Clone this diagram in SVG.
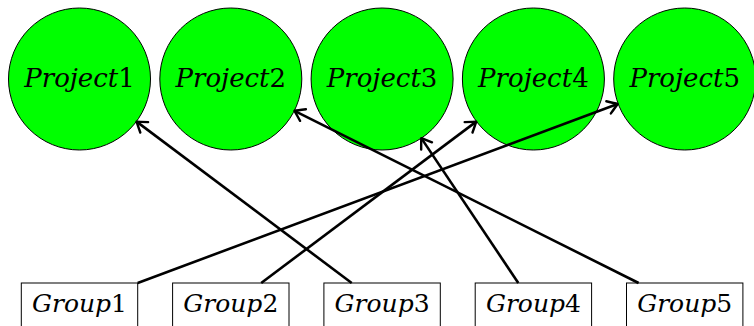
<svg xmlns="http://www.w3.org/2000/svg" width="754" height="326" viewBox="0 0 754 326">
<style>
.proj circle{fill:#00ff00;stroke:#000;stroke-width:1}
.grp rect{fill:#fff;stroke:#000;stroke-width:1}
.lbl{font-family:'DejaVu Serif',serif;font-style:italic;fill:#000;text-anchor:middle}
.proj .lbl{font-size:26px}
.grp .lbl{font-size:25px}
.lbl tspan{font-style:normal}
.edges path{fill:none;stroke:#000;stroke-width:2.6;marker-end:url(#arr)}
</style>
<defs>
<marker id="arr" markerUnits="userSpaceOnUse" markerWidth="16" markerHeight="16" refX="0" refY="0" viewBox="-12 -8 14 16" orient="auto" overflow="visible">
<path d="M -9.5 -6.5 Q -2 -1.5 0 0 Q -2 1.5 -9.5 6.5" fill="none" stroke="#000" stroke-width="2.4" stroke-linecap="round" stroke-linejoin="round"/>
</marker>
</defs>
<g id="project1" class="proj"><circle cx="79.5" cy="79" r="71"/><text class="lbl" x="79.5" y="87">Project<tspan>1</tspan></text></g>
<g id="project2" class="proj"><circle cx="230.8" cy="79" r="71"/><text class="lbl" x="230.8" y="87">Project<tspan>2</tspan></text></g>
<g id="project3" class="proj"><circle cx="382.1" cy="79" r="71"/><text class="lbl" x="382.1" y="87">Project<tspan>3</tspan></text></g>
<g id="project4" class="proj"><circle cx="533.4" cy="79" r="71"/><text class="lbl" x="533.4" y="87">Project<tspan>4</tspan></text></g>
<g id="project5" class="proj"><circle cx="684.7" cy="79" r="71"/><text class="lbl" x="684.7" y="87">Project<tspan>5</tspan></text></g>
<g id="group1" class="grp"><rect x="21.3" y="283" width="116.4" height="46"/><text class="lbl" x="79.5" y="312">Group<tspan>1</tspan></text></g>
<g id="group2" class="grp"><rect x="172.6" y="283" width="116.4" height="46"/><text class="lbl" x="230.8" y="312">Group<tspan>2</tspan></text></g>
<g id="group3" class="grp"><rect x="323.9" y="283" width="116.4" height="46"/><text class="lbl" x="382.1" y="312">Group<tspan>3</tspan></text></g>
<g id="group4" class="grp"><rect x="475.2" y="283" width="116.4" height="46"/><text class="lbl" x="533.4" y="312">Group<tspan>4</tspan></text></g>
<g id="group5" class="grp"><rect x="626.5" y="283" width="116.4" height="46"/><text class="lbl" x="684.7" y="312">Group<tspan>5</tspan></text></g>
<g id="edges" class="edges">
<path d="M 351.7 283 L 136.6 121.6"/>
<path d="M 137.7 283 L 617.5 104"/>
<path d="M 261.2 283 L 476.2 121.6"/>
<path d="M 518.3 283 L 421.3 138.1"/>
<path d="M 638.6 283 L 294.5 110.8"/>
</g>
</svg>
